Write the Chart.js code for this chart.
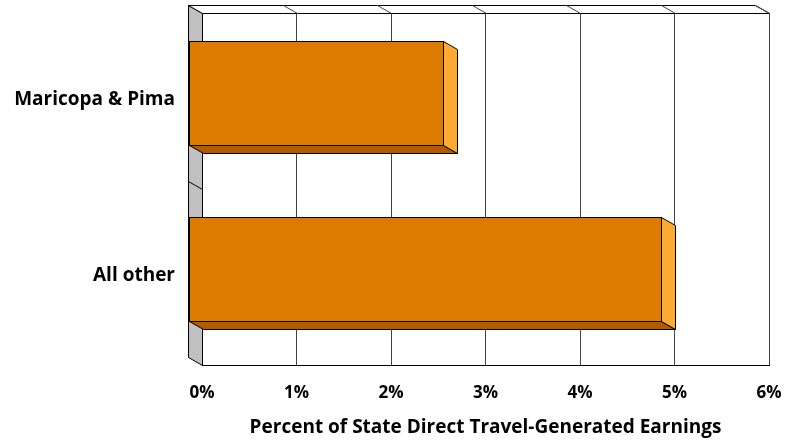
<!DOCTYPE html>
<html>
<head>
<meta charset="utf-8">
<script src="https://cdn.jsdelivr.net/npm/chart.js@4"></script>
<style>
  html, body { margin: 0; padding: 0; background: #fff; }
</style>
</head>
<body>
<canvas id="myChart" width="787" height="441"></canvas>
<script>
const categories = ['Maricopa & Pima', 'All other'];
const shares = [2.7, 5.0];
const tickLabels = ['0%', '1%', '2%', '3%', '4%', '5%', '6%'];

// depth of the fake 3d (back wall sits down-right of the front plane)
const DX = 14, DY = 8;
const FONT = '"Open Sans", Lato, sans-serif';

const box3d = {
    id: 'box3d',
    beforeDatasetsDraw(chart) {
        const { ctx, chartArea: a, scales: { x, y } } = chart;
        const L = Math.round(a.left) + 0.5, T = Math.round(a.top) + 0.5;
        const R = Math.round(a.right) + 0.5, B = Math.round(a.bottom) + 0.5;
        ctx.save();
        ctx.lineWidth = 1;
        ctx.strokeStyle = '#000';

        // left side wall
        ctx.fillStyle = '#c0c0c0';
        ctx.beginPath();
        ctx.moveTo(L - DX, T - DY);
        ctx.lineTo(L, T);
        ctx.lineTo(L, B);
        ctx.lineTo(L - DX, B - DY);
        ctx.closePath();
        ctx.fill();
        ctx.stroke();

        // category dividers on the wall
        for (let i = 1; i < categories.length; i++) {
            const yy = Math.round((y.getPixelForValue(i - 1) + y.getPixelForValue(i)) / 2) + 0.5;
            ctx.beginPath();
            ctx.moveTo(L - DX, yy - DY);
            ctx.lineTo(L, yy);
            ctx.stroke();
        }

        // top face
        ctx.fillStyle = '#fff';
        ctx.beginPath();
        ctx.moveTo(L - DX, T - DY);
        ctx.lineTo(R - DX, T - DY);
        ctx.lineTo(R, T);
        ctx.lineTo(L, T);
        ctx.closePath();
        ctx.fill();
        ctx.stroke();

        // grid continuation across the top face
        ctx.strokeStyle = '#444';
        tickLabels.forEach((t, i) => {
            if (i === 0) return;
            const xx = Math.round(x.getPixelForValue(i)) + 0.5;
            ctx.beginPath();
            ctx.moveTo(xx - DX, T - DY);
            ctx.lineTo(xx, T);
            ctx.stroke();
        });
        ctx.restore();
    },
    afterDatasetsDraw(chart) {
        const { ctx } = chart;
        const meta = chart.getDatasetMeta(0);
        ctx.save();
        ctx.lineWidth = 1;
        ctx.strokeStyle = '#000';
        meta.data.forEach(bar => {
            const x0 = Math.round(bar.base) - DX + 0.5;
            const x1 = Math.round(bar.x) - DX + 0.5;
            const y0 = Math.round(bar.y - bar.height / 2) - DY + 0.5;
            const y1 = Math.round(bar.y + bar.height / 2) - DY + 0.5;

            // bottom face
            ctx.fillStyle = '#b35a00';
            ctx.beginPath();
            ctx.moveTo(x0, y1);
            ctx.lineTo(x1, y1);
            ctx.lineTo(x1 + DX, y1 + DY);
            ctx.lineTo(x0 + DX, y1 + DY);
            ctx.closePath();
            ctx.fill();
            ctx.stroke();

            // right face
            ctx.fillStyle = '#fcaa32';
            ctx.beginPath();
            ctx.moveTo(x1, y0);
            ctx.lineTo(x1 + DX, y0 + DY);
            ctx.lineTo(x1 + DX, y1 + DY);
            ctx.lineTo(x1, y1);
            ctx.closePath();
            ctx.fill();
            ctx.stroke();

            // front face
            ctx.fillStyle = '#dc7b00';
            ctx.fillRect(x0, y0, x1 - x0, y1 - y0);
            ctx.strokeRect(x0, y0, x1 - x0, y1 - y0);
        });
        ctx.restore();
    }
};

const data = {
    labels: categories,
    datasets: [
        {
            data: shares,
            backgroundColor: 'rgba(0,0,0,0)',
            borderWidth: 0,
            categoryPercentage: 1,
            barPercentage: 0.59,
        },
    ],
};

const config = {
    type: 'bar',
    data: data,
    plugins: [box3d],
    options: {
        indexAxis: 'y',
        responsive: false,
        animation: false,
        layout: { padding: { top: 13, right: 18, left: 0, bottom: 0 } },
        plugins: {
            legend: { display: false },
            tooltip: { enabled: false },
        },
        scales: {
            x: {
                min: 0,
                max: 6,
                ticks: {
                    stepSize: 1,
                    callback: (v, i) => tickLabels[i],
                    color: '#000',
                    font: { family: FONT, size: 17, weight: 'bold' },
                    padding: 18,
                },
                grid: { color: '#444', drawTicks: false },
                border: { display: true, color: '#000' },
                title: {
                    display: true,
                    text: 'Percent of State Direct Travel-Generated Earnings',
                    color: '#000',
                    font: { family: FONT, size: 19, weight: 'bold' },
                    padding: { top: 0, bottom: 2 },
                },
                afterFit: s => { s.height = 76; s.paddingLeft = 0; s.paddingRight = 0; },
            },
            y: {
                grid: { display: false, drawTicks: false },
                border: { display: false },
                ticks: {
                    color: '#000',
                    font: { family: FONT, size: 19, weight: 'bold' },
                    padding: 27,
                    labelOffset: -1,
                },
                afterFit: s => { s.width = 202; s.paddingTop = 0; s.paddingBottom = 0; },
            },
        },
    },
};

var ctx = document.getElementById('myChart').getContext('2d');
var myChart = new Chart(ctx, config);
</script>
</body>
</html>
